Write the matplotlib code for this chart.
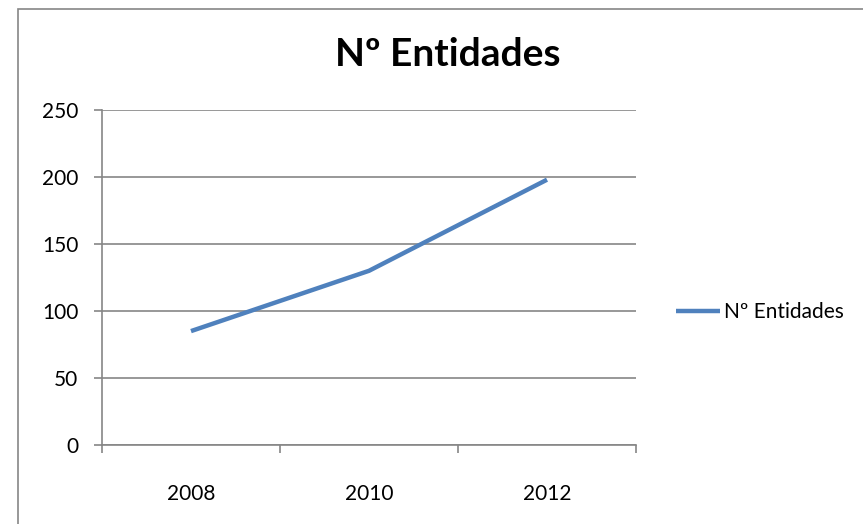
import matplotlib
matplotlib.use("Agg")
import matplotlib.pyplot as plt
from matplotlib.patches import Rectangle

years = ["2008", "2010", "2012"]
values = [85, 130, 198]
series_name = "Nº Entidades"
title = "Nº Entidades"
yticks = [0, 50, 100, 150, 200, 250]

W, H = 863, 524
fig = plt.figure(figsize=(W/100, H/100), dpi=100)
plt.rcParams['font.family'] = ['Lato', 'DejaVu Sans']

# outer chart border
fig.patches.append(Rectangle((18/W, -0.1), 1.2, 1.1 - 9/H, transform=fig.transFigure,
                             fill=False, edgecolor='#868686', linewidth=1.2))

ax = fig.add_axes([102/W, 1 - 445/H, (636-102)/W, (445-110)/H])
x = list(range(len(years)))
line, = ax.plot(x, values, color='#4F81BD', linewidth=3.2, solid_capstyle='butt',
                label=series_name)
ax.set_xlim(-0.5, len(years) - 0.5)
ax.set_ylim(0, 250)
ax.set_yticks(yticks)
ax.set_yticklabels([str(v) for v in yticks], fontsize=15)
ax.set_xticks(x)
ax.set_xticklabels(years, fontsize=15)
ax.tick_params(axis='x', length=0, pad=28)
ax.tick_params(axis='y', length=6, color='#868686', width=1.2, pad=11)
# category boundary ticks
ax.set_xticks([i - 0.5 for i in range(len(years) + 1)], minor=True)
ax.tick_params(axis='x', which='minor', length=6, color='#868686', width=1.2)
ax.grid(axis='y', color='#868686', linewidth=1.2)
ax.set_axisbelow(True)
for s in ['top', 'right']:
    ax.spines[s].set_visible(False)
for s in ['left', 'bottom']:
    ax.spines[s].set_color('#868686')
    ax.spines[s].set_linewidth(1.2)

fig.text(448/W, 1 - 55/H, title, fontsize=28, fontweight='bold', ha='center', va='center')

leg = fig.legend(handles=[line], loc='center left', bbox_to_anchor=(676/W, 1 - 312/H),
                 frameon=False, fontsize=15, handlelength=2.1, handletextpad=0.2,
                 borderpad=0, borderaxespad=0)

fig.savefig("out.png", dpi=100)
